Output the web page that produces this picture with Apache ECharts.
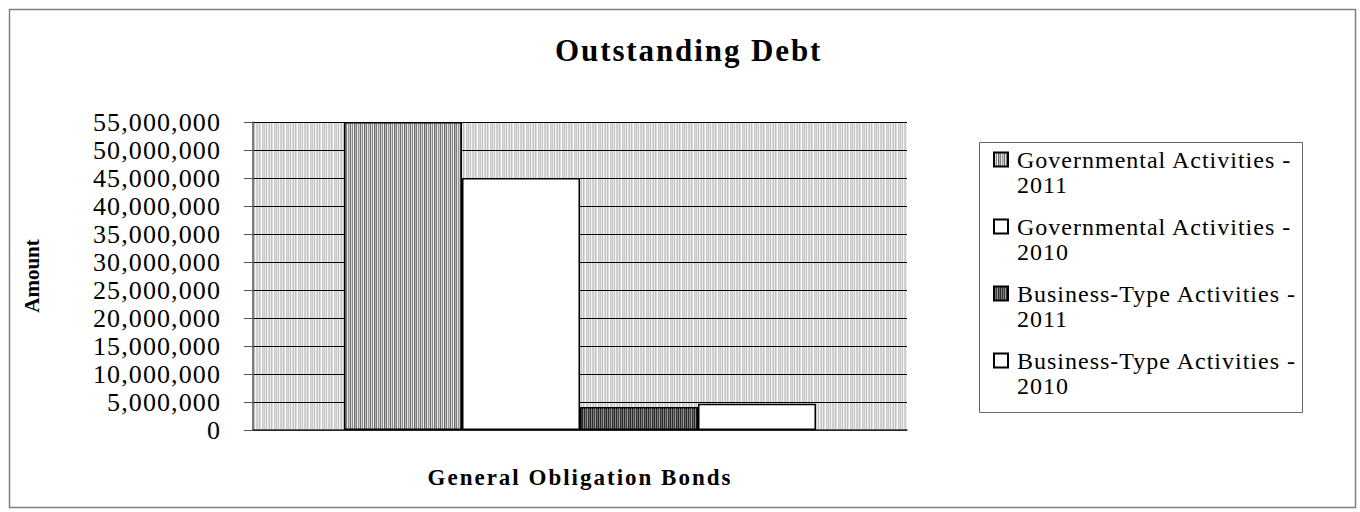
<!DOCTYPE html>
<html>
<head>
<meta charset="utf-8">
<script src="https://cdn.jsdelivr.net/npm/echarts@6/dist/echarts.min.js"></script>
<style>
  html, body { margin: 0; padding: 0; background: #fff; }
  #chart { width: 1360px; height: 512px; }
</style>
</head>
<body>
<div id="chart"></div>
<script>
// ---- data ----
const categories = ['General Obligation Bonds'];
const seriesNames = [
  'Governmental Activities - 2011',
  'Governmental Activities - 2010',
  'Business-Type Activities - 2011',
  'Business-Type Activities - 2010'
];
const govActivities2011 = [55000000];
const govActivities2010 = [45000000];
const busActivities2011 = [4100000];
const busActivities2010 = [4700000];
const yAxisMin = 0;
const yAxisMax = 55000000;
const yAxisStep = 5000000;

const FONT = "'Liberation Serif', 'Times New Roman', serif";

// vertical stripe fills built as small tiles
function stripes(cols, h) {
  const c = document.createElement('canvas');
  c.width = cols.length;
  c.height = h || 2;
  const ctx = c.getContext('2d');
  cols.forEach((col, i) => { ctx.fillStyle = col; ctx.fillRect(i, 0, 1, c.height); });
  return { image: c.toDataURL(), repeat: 'repeat', imageWidth: c.width, imageHeight: c.height };
}

const plotFill = stripes(['#cacaca', '#e8e8e8', '#c2c2c2', '#f6f6f6', '#d4d4d4', '#c8c8c8',
                          '#eeeeee', '#bdbdbd', '#e0e0e0', '#fafafa', '#cccccc', '#d8d8d8']);
const govFill = stripes(['#707070', '#d8d8d8', '#8a8a8a', '#f0f0f0', '#6a6a6a',
                         '#b5b5b5', '#7c7c7c', '#e4e4e4', '#9a9a9a', '#c8c8c8']);
const busFill = stripes(['#2e2e2e', '#7a7a7a', '#404040', '#9a9a9a',
                         '#333333', '#6a6a6a', '#262626', '#888888']);

const fills = [govFill, '#ffffff', busFill, '#ffffff'];
const values = [govActivities2011, govActivities2010, busActivities2011, busActivities2010];

const chart = echarts.init(document.getElementById('chart'), null, { renderer: 'svg' });

chart.setOption({
  animation: false,
  backgroundColor: '#ffffff',
  title: {
    text: 'Outstanding Debt',
    left: 550,
    top: 30,
    padding: 5,
    textStyle: { fontFamily: FONT, fontSize: 31, fontWeight: 'bold', color: '#000' }
  },
  grid: {
    left: 253, right: 453, top: 122, bottom: 82,
    show: true,
    backgroundColor: plotFill,
    borderWidth: 0
  },
  legend: {
    orient: 'vertical',
    left: 993,
    top: 147,
    padding: 0,
    itemWidth: 18,
    itemHeight: 39,
    itemGap: 17,
    // square swatch sitting beside the first text line
    icon: 'path://M0,0h14v14h-14Z M0,39h0.01 M18,0h0.01',
    formatter: name => name.replace(' - ', ' -\n'),
    textStyle: { fontFamily: FONT, fontSize: 24, lineHeight: 25, color: '#000' },
    data: seriesNames
  },
  xAxis: {
    type: 'category',
    data: categories,
    axisLine: { show: true, lineStyle: { color: '#333', width: 1.5 } },
    axisTick: { show: false },
    axisLabel: { margin: 36, fontFamily: FONT, fontSize: 23, fontWeight: 'bold', color: '#000' },
    splitLine: { show: false }
  },
  yAxis: {
    type: 'value',
    min: yAxisMin,
    max: yAxisMax,
    interval: yAxisStep,
    name: 'Amount',
    nameLocation: 'middle',
    nameGap: 211,
    nameTextStyle: { fontFamily: FONT, fontSize: 21, fontWeight: 'bold', color: '#000' },
    axisLine: { show: true, lineStyle: { color: '#555', width: 1.5 } },
    axisTick: { show: true, length: 9, lineStyle: { color: '#555' } },
    axisLabel: {
      margin: 32,
      fontFamily: FONT, fontSize: 26, color: '#000',
      formatter: v => v.toLocaleString('en-US')
    },
    splitLine: { show: true, lineStyle: { color: '#000', width: 1 } }
  },
  graphic: [
    {
      type: 'rect', left: 7, top: 7, silent: true,
      shape: { width: 1346, height: 498 },
      style: { fill: 'none', stroke: '#808080', lineWidth: 1.5 }
    },
    {
      type: 'rect', left: 977, top: 140, silent: true,
      shape: { width: 323, height: 270 },
      style: { fill: 'none', stroke: '#666', lineWidth: 1 }
    }
  ],
  series: seriesNames.map((name, i) => ({
    name: name,
    type: 'bar',
    data: values[i],
    barWidth: 118,
    barGap: '0%',
    itemStyle: { color: fills[i], borderColor: '#000', borderWidth: 1.5 }
  }))
});

// widen horizontal text spacing per text style
const spacing = {
  '31-bold': 1.9,
  '23-bold': 2,
  '21-bold': 0,
  '26-normal': 1.1,
  '24-normal': 1.0
};
function applySpacing() {
  document.querySelectorAll('#chart svg text').forEach(t => {
    const cs = getComputedStyle(t);
    const fs = Math.round(parseFloat(cs.fontSize));
    const w = (cs.fontWeight === 'bold' || parseInt(cs.fontWeight, 10) >= 600) ? 'bold' : 'normal';
    const s = spacing[fs + '-' + w];
    if (s !== undefined) t.style.letterSpacing = s + 'px';
  });
}
chart.on('finished', applySpacing);
applySpacing();
</script>
</body>
</html>
